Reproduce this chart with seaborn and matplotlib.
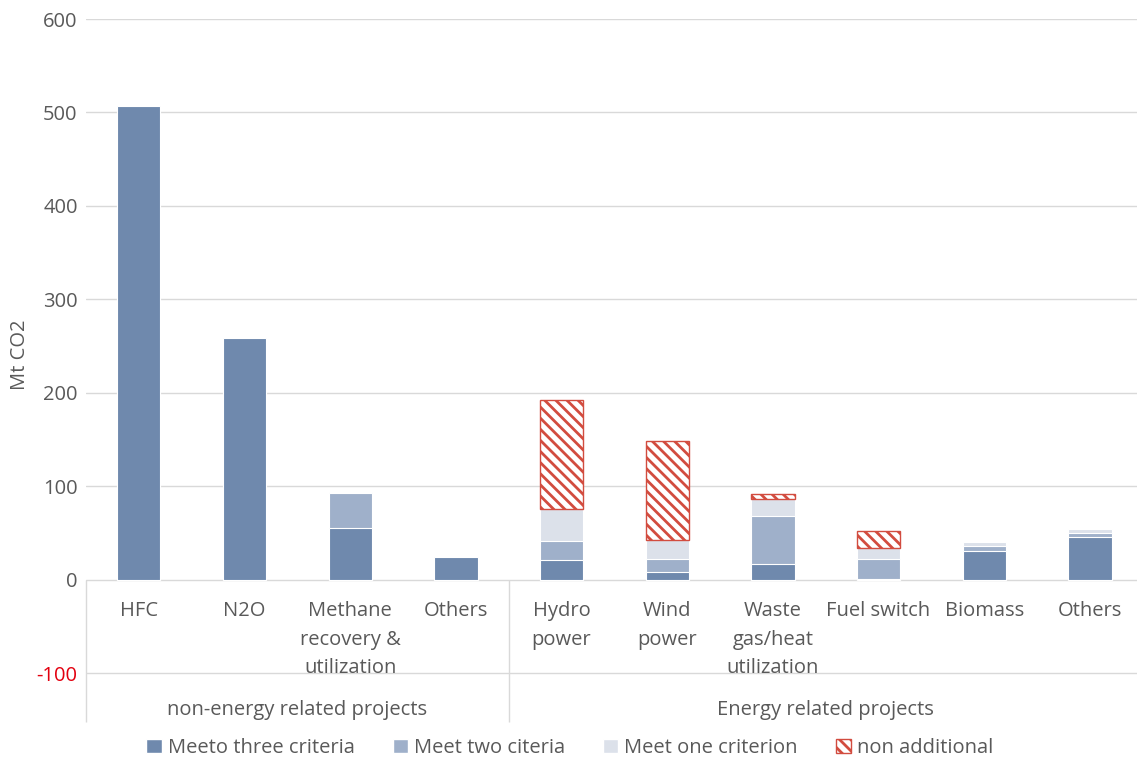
import numpy as np
import pandas as pd
import seaborn as sns
import matplotlib.pyplot as plt
from matplotlib.patches import Patch

# Data (Mt CO2)
keys = ['HFC', 'N2O', 'Methane', 'Others_ne', 'Hydro', 'Wind', 'Waste',
        'Fuel', 'Biomass', 'Others_e']
categories = ['HFC', 'N2O', 'Methane\nrecovery &\nutilization', 'Others',
              'Hydro\npower', 'Wind\npower', 'Waste\ngas/heat\nutilization',
              'Fuel switch', 'Biomass', 'Others']
groups = ['non-energy related projects', 'Energy related projects']
group_centers = [1.5, 6.5]

three = [507, 259, 55, 25, 21, 8, 17.5, 1, 31, 46]
two = [0, 0, 38, 0, 21, 14, 51, 21, 5, 4.5]
one = [0, 0, 1.5, 0, 34, 21, 18, 12.5, 5, 4]
non_add = [0, 0, 0, 0, 116, 106, 5, 17.5, 0, 0]

legend_labels = ['Meeto three criteria', 'Meet two citeria',
                 'Meet one criterion', 'non additional']

c_dark = '#6f89ad'
c_mid = '#9fb0ca'
c_light = '#dce1ea'
c_red = '#d24c3f'
txt = '#595959'
grid_c = '#d9d9d9'

df = pd.DataFrame({'key': keys, 'three': three, 'two': two,
                   'one': one, 'non': non_add})
df['c1'] = df['three']
df['c2'] = df['c1'] + df['two']
df['c3'] = df['c2'] + df['one']

sns.set_style('white')
plt.rcParams['font.family'] = ['Open Sans', 'DejaVu Sans']
plt.rcParams['hatch.linewidth'] = 2.0
plt.rcParams['axes.unicode_minus'] = False

fs = 14.5
fig = plt.figure(figsize=(11.37, 7.57), dpi=100)
ax = fig.add_axes([86 / 1137, 35 / 757, 1056.7 / 1137, 703 / 757])

bw = 0.41
# stacked by overlaying cumulative totals, tallest first
sns.barplot(data=df, x='key', y='c3', order=keys, ax=ax, color=c_light,
            edgecolor='white', linewidth=0.8, width=bw, saturation=1,
            errorbar=None)
sns.barplot(data=df, x='key', y='c2', order=keys, ax=ax, color=c_mid,
            edgecolor='white', linewidth=0.8, width=bw, saturation=1,
            errorbar=None)
sns.barplot(data=df, x='key', y='c1', order=keys, ax=ax, color=c_dark,
            edgecolor='white', linewidth=0.8, width=bw, saturation=1,
            errorbar=None)
# non additional segment sits on top of the stack
hat = df[df['non'] > 0]
sns.barplot(data=hat, x='key', y='non', order=keys, ax=ax,
            bottom=hat['c3'].to_numpy(), color='white', edgecolor=c_red,
            hatch='\\\\\\', linewidth=1, width=bw, saturation=1,
            errorbar=None)

ax.set_xlim(-0.5, 9.5)
ax.set_ylim(-152, 600)
ax.set_yticks([-100, 0, 100, 200, 300, 400, 500, 600])
ax.tick_params(axis='y', length=0, pad=6, labelsize=fs, labelcolor=txt)
ax.get_yticklabels()[0].set_color('#e3000f')
ax.set_xticks([])
ax.set_xlabel('')
ax.set_ylabel('')
fig.text(20 / 1137, 1 - 355 / 757, 'Mt CO2', rotation=90, ha='center',
         va='center', fontsize=fs, color=txt)
ax.grid(axis='y', color=grid_c, linewidth=1)
ax.set_axisbelow(True)
for s in ax.spines.values():
    s.set_visible(False)

# category axis frame
ax.vlines([-0.5, 3.5, 9.5], -152, 0, color=grid_c, linewidth=1, clip_on=False)

for i, lab in enumerate(categories):
    ax.text(i, -23, lab, ha='center', va='top', fontsize=fs, color=txt,
            linespacing=1.55)
for x, g in zip(group_centers, groups):
    ax.text(x, -139, g, ha='center', va='center', fontsize=fs, color=txt)

handles = [Patch(facecolor=c_dark, edgecolor='white'),
           Patch(facecolor=c_mid, edgecolor='white'),
           Patch(facecolor=c_light, edgecolor='white'),
           Patch(facecolor='white', edgecolor=c_red, hatch='\\\\\\')]
fig.legend(handles, legend_labels, loc='center', ncol=4, frameon=False,
           bbox_to_anchor=(570 / 1137, 1 - 748 / 757), fontsize=fs,
           handlelength=0.75, handleheight=0.75, handletextpad=0.3,
           columnspacing=1.9, labelcolor=txt)

fig.savefig('out.png', dpi=100)
